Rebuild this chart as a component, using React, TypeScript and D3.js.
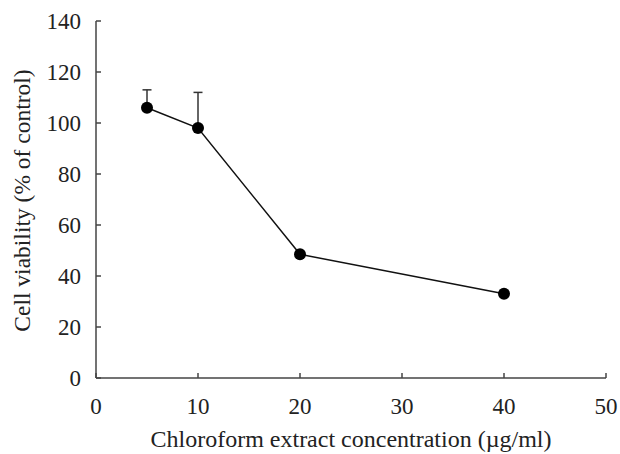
import React from "react";
import * as d3 from "d3";

// concentrations (µg/ml) and viability (% of control)
const concentrations = [5, 10, 20, 40];
const viability = [106, 98, 48.5, 33];
const errorUp = [7, 14, 1, 1];
const xTicks = [0, 10, 20, 30, 40, 50];
const yTicks = [0, 20, 40, 60, 80, 100, 120, 140];

const W = 620;
const H = 454;
const margin = { left: 96, right: 14, top: 21, bottom: 76 };

const App: React.FC = () => {
  const x = d3.scaleLinear().domain([0, 50]).range([margin.left, W - margin.right]);
  const y = d3.scaleLinear().domain([0, 140]).range([H - margin.bottom, margin.top]);

  const pts = concentrations.map((c, i) => ({ c, v: viability[i], e: errorUp[i] }));
  const line = d3
    .line<{ c: number; v: number }>()
    .x((d) => x(d.c))
    .y((d) => y(d.v));

  const axisColor = "#444";
  const font = "'Liberation Serif', 'Times New Roman', serif";
  const fs = 23;

  return (
    <svg
      width={W}
      height={H}
      style={{ position: "absolute", left: 0, top: 0, background: "#fff", fontFamily: font }}
    >
      {/* y axis */}
      <line x1={x(0)} x2={x(0)} y1={y(0)} y2={y(140)} stroke={axisColor} strokeWidth={1.5} />
      {yTicks.map((t) => (
        <g key={"y" + t}>
          <line x1={x(0)} x2={x(0) + 5} y1={y(t)} y2={y(t)} stroke={axisColor} strokeWidth={1.5} />
          <text x={x(0) - 15} y={y(t)} dy="0.35em" textAnchor="end" fontSize={fs} fill="#222">
            {t}
          </text>
        </g>
      ))}
      {/* x axis */}
      <line x1={x(0)} x2={x(50)} y1={y(0)} y2={y(0)} stroke={axisColor} strokeWidth={1.5} />
      {xTicks.map((t) => (
        <g key={"x" + t}>
          <line x1={x(t)} x2={x(t)} y1={y(0)} y2={y(0) - 5} stroke={axisColor} strokeWidth={1.5} />
          <text x={x(t)} y={y(0) + 36} textAnchor="middle" fontSize={fs} fill="#222">
            {t}
          </text>
        </g>
      ))}
      <text x={(x(0) + x(50)) / 2} y={447} textAnchor="middle" fontSize={24} fill="#222">
        Chloroform extract concentration (µg/ml)
      </text>
      <text
        transform={`translate(30, ${(y(0) + y(140)) / 2 + 1}) rotate(-90)`}
        textAnchor="middle"
        fontSize={23.5}
        fill="#222"
      >
        Cell viability (% of control)
      </text>

      {/* error bars (upper only) */}
      {pts.map((d, i) => (
        <g key={"e" + i} stroke="#333" strokeWidth={1.5}>
          <line x1={x(d.c)} x2={x(d.c)} y1={y(d.v)} y2={y(d.v + d.e)} />
          <line x1={x(d.c) - 4.5} x2={x(d.c) + 4.5} y1={y(d.v + d.e)} y2={y(d.v + d.e)} />
        </g>
      ))}

      <path d={line(pts) ?? ""} fill="none" stroke="#111" strokeWidth={1.5} />
      {pts.map((d, i) => (
        <circle key={"p" + i} cx={x(d.c)} cy={y(d.v)} r={6} fill="#000" />
      ))}
    </svg>
  );
};

export default App;
